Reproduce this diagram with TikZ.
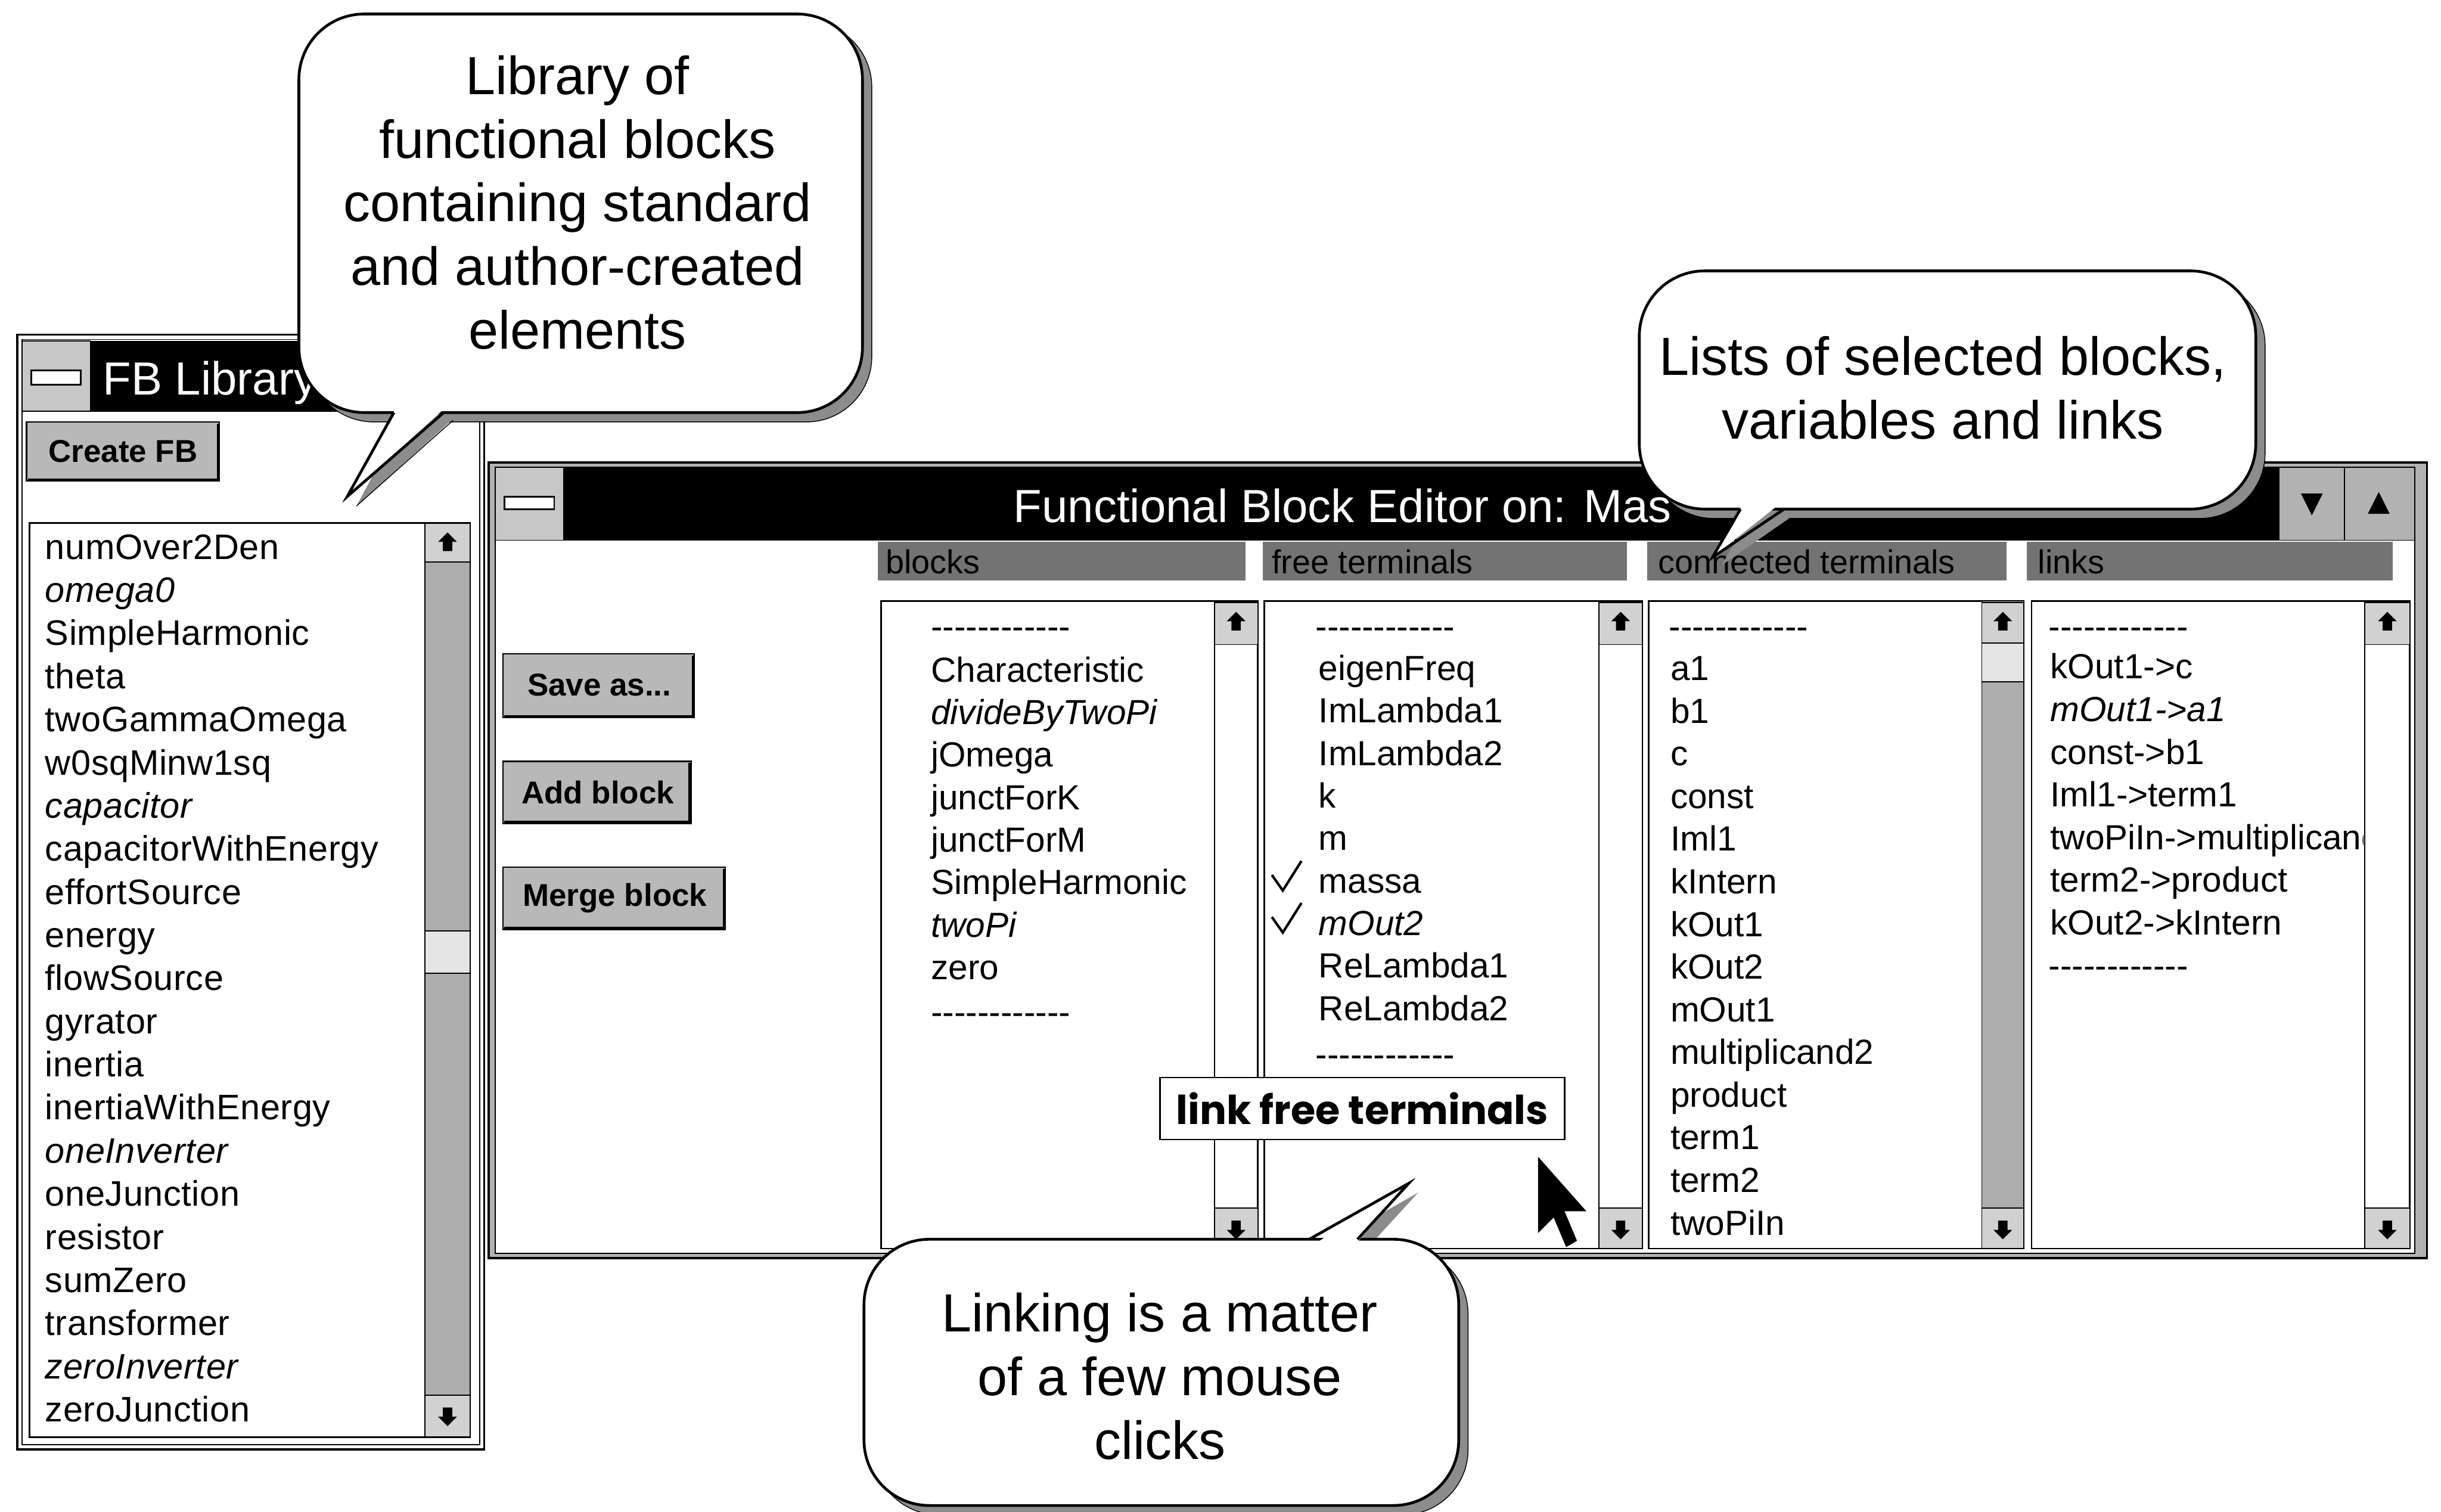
\documentclass[tikz,border=0pt]{standalone}
\usepackage{fontspec}
\setmainfont{Liberation Sans}
\newfontfamily\uifont{Liberation Sans}
\newfontfamily\libfont[LetterSpace=1.0]{Liberation Sans}
\newfontfamily\labfont{Poppins}
% small scroll-bar arrow glyphs, centred on (#1,#2)
\newcommand\sbup[2]{\fill (#1,#2) ++(0,-7) -- ++(6,6) -- ++(-3,0) -- ++(0,6) -- ++(-6,0) -- ++(0,-6) -- ++(-3,0) -- cycle;}
\newcommand\sbdown[2]{\fill (#1,#2) ++(0,7) -- ++(6,-6) -- ++(-3,0) -- ++(0,-6) -- ++(-6,0) -- ++(0,6) -- ++(-3,0) -- cycle;}
\begin{document}
\begin{tikzpicture}[x=2.8131pt,y=-2.8131pt,line join=miter,
  frame/.style={draw=black,line width=4pt},
  thin/.style={draw=black,line width=2pt},
  listbox/.style={draw=black,line width=3pt,fill=white},
  sbtrack/.style={draw=black,line width=2pt,fill=black!32},
  sbbox/.style={draw=black,line width=2pt,fill=black!18},
  btnbox/.style={draw=black,line width=2.5pt,fill=black!28},
  btntext/.style={font=\uifont\bfseries\fontsize{57}{60}\selectfont,inner sep=0pt},
  hdr/.style={fill=black!55},
  hdrtext/.style={anchor=west,inner sep=0pt,font=\uifont\fontsize{60}{64}\selectfont,text height=43pt,text depth=0pt},
  titletext/.style={anchor=west,inner sep=0pt,text=white,font=\uifont\fontsize{84}{90}\selectfont,text height=60pt,text depth=0pt},
  libitem/.style={anchor=west,inner sep=0pt,font=\libfont\fontsize{64}{70}\selectfont,text height=46pt,text depth=0pt},
  editem/.style={anchor=west,inner sep=0pt,font=\uifont\fontsize{63}{70}\selectfont,text height=45pt,text depth=0pt},
  bubble/.style={draw=black,line width=5pt,fill=white,rounded corners=118pt},
  bshadow/.style={draw=black,line width=1.5pt,fill=black!45,rounded corners=118pt},
  bubbletext/.style={align=center,inner sep=0pt,font=\uifont\fontsize{97}{115}\selectfont},
  tailline/.style={draw=black,line width=5pt},
  check/.style={draw=black,line width=4.5pt}
]
\useasboundingbox (0,0) rectangle (1568,971);
\fill[white] (0,0) rectangle (1568,971);

% ---------------- FB Library window ----------------
\draw[frame,fill=white] (11,215) rectangle (311,931);
\draw[thin] (14,218) rectangle (308,928);
\fill[black] (58,219) rectangle (308,264);
\draw[thin,fill=black!22] (14,219) rectangle (58,264);
\draw[line width=3pt,fill=white] (20,238) rectangle (52,247);
\draw[thin] (14,264) -- (308,264);
\node[titletext] (libtitle) at (66,243) {FB Library};

\draw[btnbox] (17,271) rectangle (141,309);
\draw[line width=4pt] (18,308) -- (140,308) -- (140,272);
\node[btntext] (createfb) at (79,290) {Create FB};

\draw[listbox] (19,336) rectangle (302,923);
\draw[sbtrack] (273,336) rectangle (302,923);
\draw[sbbox] (273,336) rectangle (302,361);
\sbup{287.5}{349}
\draw[thin,fill=black!10] (273,598) rectangle (302,625);
\draw[sbbox] (273,896) rectangle (302,923);
\sbdown{287.5}{909}

\foreach \t [count=\i from 0] in {numOver2Den,{\itshape omega0},SimpleHarmonic,theta,
  twoGammaOmega,w0sqMinw1sq,{\itshape capacitor},capacitorWithEnergy,effortSource,energy,
  flowSource,gyrator,inertia,inertiaWithEnergy,{\itshape oneInverter},oneJunction,resistor,
  sumZero,transformer,{\itshape zeroInverter},zeroJunction}
  \node[libitem] (lib\i) at (29,351+27.7*\i) {\t};

% ---------------- Functional Block Editor window ----------------
\draw[frame,fill=black!30] (314,297) rectangle (1559,808);
\draw[thin,fill=white] (318,300) rectangle (1551,805);
\fill[black] (362,300) rectangle (1464,347);
\draw[thin,fill=black!22] (318,300) rectangle (362,347);
\draw[line width=3pt,fill=white] (324,319) rectangle (356,327);
\draw[thin,fill=black!30] (1464,300) rectangle (1506,347);
\draw[thin,fill=black!30] (1506,300) rectangle (1551,347);
\fill (1478,317) -- (1492,317) -- (1485,331) -- cycle;
\fill (1521,330) -- (1535,330) -- (1528,316) -- cycle;
\draw[thin] (318,347) -- (1551,347);
\node[titletext] (edtitle) at (651,325) {Functional Block Editor on: Mas};

% command buttons
\draw[btnbox] (323,420) rectangle (446,461);
\draw[line width=4pt] (324,460) -- (445,460) -- (445,421);
\node[btntext] (saveas) at (385,440) {Save as...};
\draw[btnbox] (323,489) rectangle (444,529);
\draw[line width=4pt] (324,528) -- (443,528) -- (443,490);
\node[btntext] (addblock) at (384,509) {Add block};
\draw[btnbox] (323,557) rectangle (466,597);
\draw[line width=4pt] (324,596) -- (465,596) -- (465,558);
\node[btntext] (mergeblock) at (395,577) {Merge block};

% column headers
\fill[hdr] (564,348) rectangle (800,373);
\node[hdrtext] (hblocks) at (569,361) {blocks};
\fill[hdr] (811,348) rectangle (1045,373);
\node[hdrtext] (hfree) at (817,361) {free terminals};
\fill[hdr] (1058,348) rectangle (1289,373);
\node[hdrtext] (hconn) at (1065,361) {connected terminals};
\fill[hdr] (1302,348) rectangle (1537,373);
\node[hdrtext] (hlinks) at (1309,361) {links};

% list boxes with scroll bars
\draw[listbox] (566,386) rectangle (808,802);
\draw[thin] (780,386) -- (780,802);
\draw[sbbox] (780,387) rectangle (808,414); \sbup{794}{400}
\draw[sbbox] (780,776) rectangle (808,802); \sbdown{794}{789}

\draw[listbox] (812,386) rectangle (1055,802);
\draw[thin] (1027,386) -- (1027,802);
\draw[sbbox] (1027,387) rectangle (1055,414); \sbup{1041}{400}
\draw[sbbox] (1027,776) rectangle (1055,802); \sbdown{1041}{789}

\draw[listbox] (1059,386) rectangle (1300,802);
\draw[sbtrack] (1273,386) rectangle (1300,802);
\draw[sbbox] (1273,387) rectangle (1300,413); \sbup{1286.5}{400}
\draw[thin,fill=black!10] (1273,413) rectangle (1300,438);
\draw[sbbox] (1273,776) rectangle (1300,802); \sbdown{1286.5}{789}

\draw[listbox] (1305,386) rectangle (1548,802);
\draw[thin] (1519,386) -- (1519,802);
\draw[sbbox] (1519,387) rectangle (1548,414); \sbup{1533.5}{400}
\draw[sbbox] (1519,776) rectangle (1548,802); \sbdown{1533.5}{789}

% blocks
\node[editem] (bd1) at (598,402) {-{}-{}-{}-{}-{}-{}-{}-{}-{}-{}-{}-};
\foreach \t [count=\i from 0] in {Characteristic,{\itshape divideByTwoPi},jOmega,junctForK,
  junctForM,SimpleHarmonic,{\itshape twoPi},zero}
  \node[editem] (blk\i) at (598,430+27.3*\i) {\t};
\node[editem] (bd2) at (598,650) {-{}-{}-{}-{}-{}-{}-{}-{}-{}-{}-{}-};

% free terminals
\node[editem] (fd1) at (845,402) {-{}-{}-{}-{}-{}-{}-{}-{}-{}-{}-{}-};
\foreach \t [count=\i from 0] in {eigenFreq,ImLambda1,ImLambda2,k,m,massa,{\itshape mOut2},
  ReLambda1,ReLambda2}
  \node[editem] (fr\i) at (847,429+27.3*\i) {\t};
\node[editem] (fd2) at (845,677) {-{}-{}-{}-{}-{}-{}-{}-{}-{}-{}-{}-};
\draw[check] (817,562) -- (824,572) -- (836,553);
\draw[check] (817,589) -- (824,599) -- (836,580);

% connected terminals
\node[editem] (cd1) at (1072,402) {-{}-{}-{}-{}-{}-{}-{}-{}-{}-{}-{}-};
\foreach \t [count=\i from 0] in {a1,b1,c,const,Iml1,kIntern,kOut1,kOut2,mOut1,
  multiplicand2,product,term1,term2,twoPiIn}
  \node[editem] (ct\i) at (1073,429+27.4*\i) {\t};

% links
\begin{scope}
\clip (1306,387) rectangle (1518,801);
\node[editem] (ld1) at (1316,402) {-{}-{}-{}-{}-{}-{}-{}-{}-{}-{}-{}-};
\foreach \t [count=\i from 0] in {kOut1->c,{\itshape mOut1->a1},const->b1,Iml1->term1,
  twoPiIn->multiplicand2,term2->product,kOut2->kIntern}
  \node[editem] (lk\i) at (1317,428+27.4*\i) {\t};
\node[editem] (ld2) at (1316,620) {-{}-{}-{}-{}-{}-{}-{}-{}-{}-{}-{}-};
\end{scope}

% link button label and mouse pointer
\node[draw=black,line width=3pt,fill=white,inner sep=0pt,minimum width=731pt,minimum height=112pt,
  font=\labfont\bfseries\fontsize{72}{76}\selectfont] (linklabel) at (875,712) {link free terminals};
\fill[black] (988,743) -- (988,792) -- (998,782) -- (1006,801) -- (1013,797) -- (1005,778) -- (1019,778) -- cycle;

% ---------------- callouts ----------------
% library callout
\fill[bshadow] (198,14) rectangle (560,271);
\fill[black!45] (259,269) -- (229,325) -- (291,269) -- cycle;
\draw[bshadow,fill=none,rounded corners=0pt] (291,270) -- (229,325);
\draw[bubble] (192,9) rectangle (554,265);
\fill[white] (255,261) -- (223,319) -- (287,261) -- cycle;
\draw[tailline] (253,265) -- (223,319) -- (285,265);
\node[bubbletext] (libnote) at (371,130) {Library of\\functional blocks\\containing standard\\and author-created\\elements};

% lists callout
\fill[bshadow] (1059,180) rectangle (1455,333);
\fill[black!45] (1124,331) -- (1106,363) -- (1152,331) -- cycle;
\draw[bubble] (1053,174) rectangle (1449,327);
\fill[white] (1120,323) -- (1100,358) -- (1144,323) -- cycle;
\draw[tailline] (1118,327) -- (1100,358) -- (1146,327);
\node[bubbletext] (listnote) at (1248,249) {Lists of selected blocks,\\variables and links};

% linking callout
\fill[bshadow] (561,802) rectangle (943,973);
\fill[black!45] (848,802) -- (911,766) -- (878,802) -- cycle;
\draw[bubble] (555,796) rectangle (937,967);
\fill[white] (843,800) -- (905,760) -- (870,800) -- cycle;
\draw[tailline] (841,796) -- (905,760) -- (872,796);
\node[bubbletext] (linknote) at (745,884) {Linking is a matter\\of a few mouse\\clicks};
\end{tikzpicture}
\end{document}
